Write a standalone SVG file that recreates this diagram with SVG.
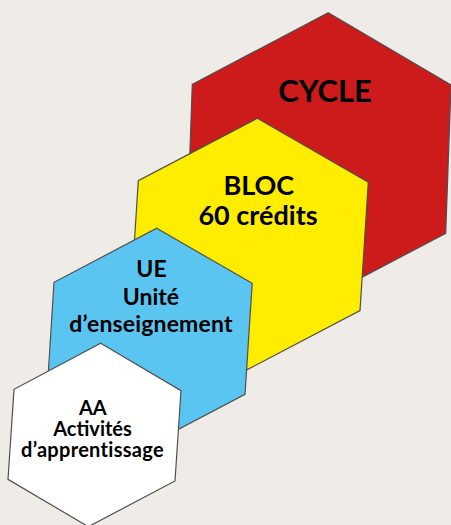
<svg xmlns="http://www.w3.org/2000/svg" width="451" height="525" viewBox="0 0 451 525">
<style>
.hex{stroke:#4f4f4f;stroke-width:1.2;stroke-linejoin:miter}
.t{font-family:Lato,"Liberation Sans",sans-serif;font-weight:700;fill:#000;text-anchor:middle}
</style>
<rect width="451" height="525" fill="#efece7"/>
<g id="cycle">
<polygon class="hex" fill="#cd1a1b" points="328.3,12.7 451,85 445.7,233.3 309.7,304.9 187,232.6 192.3,84.3"/>
<text class="t" x="325" y="101.5" font-size="31">CYCLE</text>
</g>
<g id="bloc">
<polygon class="hex" fill="#ffed00" points="257.3,118.3 368.3,182.3 360,310.6 241.1,372.9 130.1,308.9 138.3,180.7"/>
<text class="t" x="258.8" y="195" font-size="27">BLOC</text>
<text class="t" x="258" y="225" font-size="27">60 crédits</text>
</g>
<g id="ue">
<polygon class="hex" fill="#5bc5f2" points="156.7,228.3 252.2,283.3 245,394.3 142.3,448.3 47,393.3 54,282.3"/>
<text class="t" x="151.5" y="276.7" font-size="23">UE</text>
<text class="t" x="151" y="305" font-size="23">Unité</text>
<text class="t" x="151" y="331.7" font-size="23" letter-spacing="0.15">d’enseignement</text>
</g>
<g id="aa">
<polygon class="hex" fill="#ffffff" points="100.7,343.3 181,390.7 175,481 88.3,526.7 8,479.3 14,389.3"/>
<text class="t" x="92.8" y="415" font-size="20">AA</text>
<text class="t" x="92.5" y="436" font-size="20">Activités</text>
<text class="t" x="92.5" y="457.3" font-size="20" letter-spacing="0.3">d’apprentissage</text>
</g>
<g id="connectors"/>
</svg>
